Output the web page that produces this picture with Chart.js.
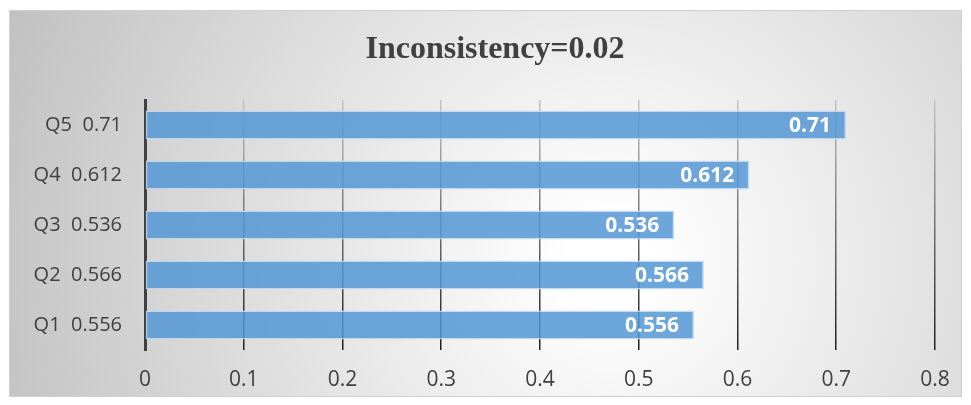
<!DOCTYPE html>
<html>
<head>
<meta charset="utf-8">
<script src="https://cdn.jsdelivr.net/npm/chart.js@4.4.1/dist/chart.umd.min.js"></script>
<style>
  html, body { margin: 0; padding: 0; background: #fff; }
  #wrap { width: 971px; height: 405px; }
</style>
</head>
<body>
<div id="wrap"><canvas id="chart"></canvas></div>
<script>
// data
const questions = ['Q5', 'Q4', 'Q3', 'Q2', 'Q1'];
const weights = [0.71, 0.612, 0.536, 0.566, 0.556];
const weightText = ['0.71', '0.612', '0.536', '0.566', '0.556'];
const xTicks = [0, 0.1, 0.2, 0.3, 0.4, 0.5, 0.6, 0.7, 0.8];
const chartTitle = 'Inconsistency=0.02';

const labels = questions.map((q, i) => q + '  ' + weightText[i]);

// grey radial background inside a thin frame, plus the title
const backdrop = {
    id: 'backdrop',
    beforeDraw(chart) {
        const c = chart.ctx;
        c.save();
        const g = c.createRadialGradient(610, 260, 40, 610, 260, 640);
        g.addColorStop(0, '#ffffff');
        g.addColorStop(1, '#c2c2c2');
        c.fillStyle = g;
        c.fillRect(9, 10, 953, 387);
        c.strokeStyle = '#d0d0d0';
        c.lineWidth = 1;
        c.strokeRect(9.5, 10.5, 952, 386);

        c.fillStyle = '#404040';
        c.font = 'bold 32px "Liberation Serif"';
        c.textAlign = 'center';
        c.textBaseline = 'middle';
        c.fillText(chartTitle, 495, 50);
        c.restore();
    }
};

// white value label at the end of each bar
const barValues = {
    id: 'barValues',
    afterDatasetsDraw(chart) {
        const c = chart.ctx;
        const meta = chart.getDatasetMeta(0);
        c.save();
        c.fillStyle = '#ffffff';
        c.font = 'bold 21px "Open Sans"';
        c.textAlign = 'right';
        c.textBaseline = 'middle';
        meta.data.forEach((bar, i) => {
            c.fillText(weightText[i], bar.x - 15, bar.y + 1);
        });
        c.restore();
    }
};

const ctx = document.getElementById('chart').getContext('2d');
new Chart(ctx, {
    type: 'bar',
    data: {
        labels: labels,
        datasets: [{
            data: weights,
            backgroundColor: 'rgba(84, 150, 212, 0.85)',
            borderColor: 'rgba(190, 215, 240, 0.9)',
            borderWidth: 1.5,
            borderSkipped: false,
            barPercentage: 0.58,
            categoryPercentage: 1
        }]
    },
    options: {
        indexAxis: 'y',
        responsive: true,
        maintainAspectRatio: false,
        animation: false,
        layout: { padding: { left: 0, right: 36, top: 100, bottom: 0 } },
        plugins: {
            legend: { display: false },
            tooltip: { enabled: false },
            title: { display: false }
        },
        scales: {
            x: {
                min: 0,
                max: 0.8,
                afterBuildTicks(scale) {
                    scale.ticks = xTicks.map(v => ({ value: v }));
                },
                afterFit(scale) { scale.height = 55; },
                border: { display: false },
                grid: {
                    drawTicks: false,
                    lineWidth: 1.5,
                    color(context) {
                        const area = context.chart.chartArea;
                        if (!area) return '#555';
                        const g = context.chart.ctx.createLinearGradient(0, area.top, 0, area.bottom);
                        g.addColorStop(0, '#c4c4c4');
                        g.addColorStop(1, '#1e1e1e');
                        return g;
                    }
                },
                ticks: {
                    color: '#404040',
                    padding: 17,
                    font: { family: '"Open Sans"', size: 21 },
                    callback: v => String(v)
                }
            },
            y: {
                border: { display: true, color: '#404040', width: 3 },
                grid: { display: false, drawTicks: false },
                afterFit(scale) { scale.width = 145; },
                ticks: {
                    color: '#404040',
                    padding: 23,
                    font: { family: '"Open Sans"', size: 20 }
                }
            }
        }
    },
    plugins: [backdrop, barValues]
});
</script>
</body>
</html>
